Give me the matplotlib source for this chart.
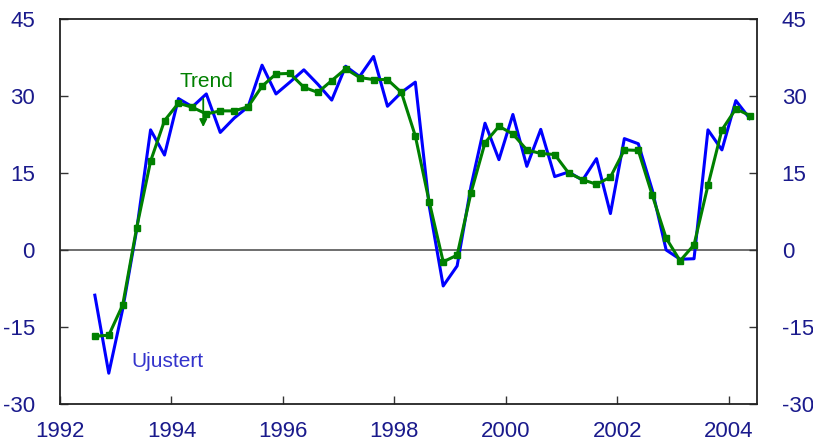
import numpy as np
import pandas as pd
import matplotlib
matplotlib.use("Agg")
import matplotlib.pyplot as plt

plt.rcParams['font.family'] = ['Liberation Sans', 'DejaVu Sans']
plt.rcParams['axes.unicode_minus'] = False

# quarterly observations, 1992Q3 - 2004Q2
quarters = pd.period_range('1992Q3', '2004Q2', freq='Q')

ujustert = [-8.8, -24.0, -11.5, 3.9, 23.4, 18.5, 29.5, 27.9, 30.4, 22.9,
            25.7, 27.9, 36.0, 30.4, 32.7, 35.1, 32.3, 29.2, 35.8, 33.8,
            37.7, 28.0, 30.7, 32.7, 8.5, -7.0, -3.1, 12.5, 24.7, 17.6,
            26.4, 16.3, 23.5, 14.3, 15.2, 13.6, 17.8, 7.1, 21.7, 20.7,
            11.7, 0.0, -1.8, -1.7, 23.4, 19.5, 29.1, 25.6]

trend = [-16.8, -16.6, -10.7, 4.3, 17.3, 25.2, 28.6, 27.8, 26.5, 27.1,
         27.1, 27.9, 31.9, 34.3, 34.4, 31.7, 30.7, 33.0, 35.3, 33.6,
         33.2, 33.2, 30.7, 22.2, 9.35, -2.3, -1.0, 11.2, 20.9, 24.1,
         22.6, 19.5, 18.8, 18.6, 15.0, 13.7, 12.8, 14.2, 19.5, 19.4,
         10.7, 2.3, -2.1, 1.0, 12.6, 23.4, 27.5, 26.2]

year_ticks = [1992, 1994, 1996, 1998, 2000, 2002, 2004]
y_ticks = [-30, -15, 0, 15, 30, 45]

navy = '#1a1a8c'

# mid-quarter position in decimal years
x = quarters.year + (quarters.quarter - 0.5) / 4.0

fig = plt.figure(figsize=(8.13, 4.48), dpi=100)
ax = fig.add_axes([0.0738, 0.0982, 0.857, 0.8594])

ax.axhline(0, color='#555555', lw=1.2, zorder=1)
ax.plot(x, ujustert, color='#0000ff', lw=2.2, zorder=2)
ax.plot(x, trend, color='#008000', lw=2.2, marker='s', markersize=4,
        zorder=3)

ax.set_xlim(1992, 2004.5)
ax.set_ylim(-30, 45)
ax.set_xticks(year_ticks)
ax.set_xticklabels([str(y) for y in year_ticks])
ax.set_yticks(y_ticks)

ax.tick_params(axis='both', direction='in', length=6, width=1,
               labelsize=16, labelcolor=navy, color='#333333')
ax.tick_params(axis='y', pad=18, right=True, labelright=True)
ax.tick_params(axis='x', pad=12)
for s in ax.spines.values():
    s.set_linewidth(1.3)
    s.set_color('#222222')

ax.text(1994.62, 32.9, 'Trend', color='#008000', fontsize=15,
        ha='center', va='center')
ax.annotate('', xy=(1994.57, 23.4), xytext=(1994.57, 30.0),
            arrowprops=dict(arrowstyle='-|>', color='#008000', lw=1.3,
                            mutation_scale=11))
ax.text(1993.28, -21.8, 'Ujustert', color='#3333cc', fontsize=15,
        ha='left', va='center')

fig.savefig('out.png', dpi=100)
